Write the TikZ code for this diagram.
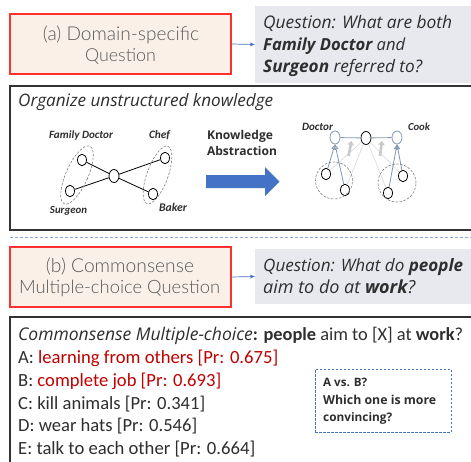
\documentclass[tikz,border=0pt]{standalone}
\usepackage{graphicx}
\usepackage{fontspec}
\setmainfont{Carlito}
\newfontfamily\thinfont{Lato Light}
\newfontfamily\segoe{Open Sans}
\usetikzlibrary{arrows.meta,shapes.geometric}
\newcommand{\fitw}[2]{\resizebox{#1}{!}{#2}}
\definecolor{redbox}{HTML}{FF3030}
\definecolor{beige}{HTML}{FAF0E8}
\definecolor{qgray}{HTML}{E7E9EE}
\definecolor{abblue}{HTML}{4472C4}
\definecolor{dashblue}{HTML}{8FAADC}
\definecolor{darkred}{HTML}{C00000}
\definecolor{txtgray}{HTML}{2E2E2E}
\definecolor{catgray}{HTML}{595959}
\definecolor{bluegray}{HTML}{8497B0}
\definecolor{faint}{HTML}{DADADA}
\definecolor{faintarrow}{HTML}{C9C9C9}
\begin{document}
\begin{tikzpicture}[x=1pt,y=-1pt,
  catbox/.style={draw=redbox, line width=1.1pt, fill=beige, minimum width=221pt, inner sep=0pt},
  qbox/.style={fill=qgray, minimum width=220pt, inner sep=0pt},
  frame/.style={draw=black!80, line width=1.1pt, inner sep=0pt},
  cattxt/.style={font=\thinfont\fontsize{18.8}{21}\selectfont, text=catgray, inner sep=0pt, anchor=base},
  qtxt/.style={font=\segoe\fontsize{16}{22}\selectfont\itshape, text=txtgray, inner sep=0pt, anchor=base west},
  btxt/.style={font=\fontsize{16.8}{22}\selectfont, text=txtgray, inner sep=0pt, anchor=base west},
  sbold/.style={font=\segoe\fontsize{12}{15}\selectfont\bfseries, text=txtgray, inner sep=0pt},
  link/.style={draw=abblue, line width=0.7pt, -{Stealth[length=5pt,width=4pt]}},
  gnode/.style={draw=black, line width=0.8pt, ellipse, minimum width=9pt, minimum height=11.5pt, inner sep=0pt},
  anode/.style={draw=bluegray, line width=0.8pt, ellipse, minimum width=10pt, minimum height=13pt, inner sep=0pt},
  glabel/.style={font=\fontsize{10.5}{12}\selectfont\bfseries\itshape, text=txtgray, inner sep=0pt, anchor=base},
  group/.style={draw=gray, dashed, dash pattern=on 2.5pt off 1.5pt, line width=0.6pt, ellipse, inner sep=0pt},
  gedge/.style={draw=black, line width=0.8pt},
  aedge/.style={draw=bluegray, line width=0.8pt},
  isa/.style={draw=bluegray, line width=0.8pt, -{Triangle[open,length=5pt,width=4.5pt]}},
  fedge/.style={draw=faint, line width=0.6pt},
  farrow/.style={draw=faintarrow, line width=2.6pt, -{Triangle[length=4pt,width=6.5pt]}},
]
\useasboundingbox (0,0) rectangle (471,461);
\fill[white] (0,0) rectangle (471,461);

% ---------- (a) ----------
\node[catbox, minimum height=60pt] (boxa) at (120.5,44) {};
\node[cattxt] (boxa1) at (121,40.7) {\fitw{156pt}{(a) Domain-specific}};
\node[cattxt] (boxa2) at (120.5,61.7) {\fitw{71pt}{Question}};
\node[qbox, minimum height=77pt] (qa) at (365,44.5) {};
\node[qtxt] (qa1) at (263,28.3) {\fitw{189pt}{Question: What are both}};
\node[qtxt] (qa2) at (263,50.3) {\fitw{142pt}{\textbf{Family Doctor} and}};
\node[qtxt] (qa3) at (263,72.6) {\fitw{159pt}{\textbf{Surgeon} referred to?}};
\draw[link] (boxa.east) -- (qa.west);

% ---------- knowledge frame ----------
\node[frame, minimum width=466pt, minimum height=144pt] (kbox) at (243,158) {};
\node[qtxt] (org) at (18,106.7) {\fitw{255pt}{Organize unstructured knowledge}};

% left graph
\node[gnode] (fd) at (82,160) {};
\node[gnode] (sg) at (70,191) {};
\node[gnode, minimum width=10pt, minimum height=13pt] (ct) at (114,176) {};
\node[gnode] (cf) at (165,158) {};
\node[gnode] (bk) at (153,194) {};
\draw[gedge] (fd) -- (ct);
\draw[gedge] (sg) -- (ct);
\draw[gedge] (cf) -- (ct);
\draw[gedge] (bk) -- (ct);
\node[group, minimum width=22pt, minimum height=63pt, rotate=-24] (g1) at (77,175) {};
\node[group, minimum width=21pt, minimum height=61pt, rotate=-20] (g2) at (157.5,175) {};
\node[glabel] (lfd) at (81,138.5) {\fitw{64pt}{Family Doctor}};
\node[glabel] (lcf) at (159.5,138.5) {\fitw{21pt}{Chef}};
\node[glabel] (lsg) at (68.5,213.5) {\fitw{37pt}{Surgeon}};
\node[glabel] (lbk) at (173,211.5) {\fitw{28pt}{Baker}};

% knowledge abstraction arrow
\node[sbold, anchor=base] (ka1) at (240,139.5) {\fitw{66pt}{Knowledge}};
\node[sbold, anchor=base] (ka2) at (242,155) {\fitw{70pt}{Abstraction}};
\fill[abblue] (206,175) -- (265,175) -- (265,167) -- (279.5,181.5) -- (265,196) -- (265,188) -- (206,188) -- cycle;

% right graph
\node[anode] (dr) at (335,137.5) {};
\node[gnode, minimum width=10pt, minimum height=13pt] (rc) at (366,138) {};
\node[anode] (ck) at (397,137.5) {};
\node[gnode] (l1) at (326,174) {};
\node[gnode] (l2) at (345,190) {};
\node[gnode] (r1) at (403,176) {};
\node[gnode] (r2) at (388,193) {};
\draw[fedge] (rc) -- (l1);
\draw[fedge] (rc) -- (l2);
\draw[fedge] (rc) -- (r1);
\draw[fedge] (rc) -- (r2);
\draw[aedge] (dr) -- (rc);
\draw[aedge] (rc) -- (ck);
\draw[isa] (l1) -- (dr.south);
\draw[isa] (l2) -- (dr.south);
\draw[isa] (r1) -- (ck.south);
\draw[isa] (r2) -- (ck.south);
\coordinate (fa1s) at (348.5,156);
\coordinate (fa1e) at (351.5,141);
\coordinate (fa2s) at (380,156);
\coordinate (fa2e) at (382,141);
\draw[farrow] (fa1s) -- (fa1e);
\draw[farrow] (fa2s) -- (fa2e);
\node[group, circle, minimum size=37pt] (gl) at (334,180.5) {};
\node[group, circle, minimum size=38pt] (gr) at (397,183) {};
\node[glabel] (ldr) at (317.5,130) {\fitw{31pt}{Doctor}};
\node[glabel] (lck) at (419,130.5) {\fitw{22pt}{Cook}};

% separator
\coordinate (sepl) at (10,237);
\coordinate (sepr) at (471,237);
\draw[dashblue, line width=0.9pt, dash pattern=on 3pt off 2pt] (sepl) -- (sepr);

% ---------- (b) ----------
\node[catbox, minimum height=60pt] (boxb) at (120.5,277) {};
\node[cattxt] (boxb1) at (120,272.7) {\fitw{148pt}{(b) Commonsense}};
\node[cattxt] (boxb2) at (119.5,293.3) {\fitw{201pt}{Multiple-choice Question}};
\node[qbox, minimum height=55pt] (qb) at (365,276.5) {};
\node[qtxt] (qb1) at (263,271.7) {\fitw{200pt}{Question: What do \textbf{people}}};
\node[qtxt] (qb2) at (263,293.3) {\fitw{152pt}{aim to do at \textbf{work}?}};
\draw[link] (boxb.east) -- (qb.west);

% ---------- commonsense frame ----------
\node[frame, minimum width=466pt, minimum height=160pt] (cbox) at (243,397) {};
\node[btxt] (hdr) at (18,340.7) {\fitw{445pt}{{\segoe\itshape\fontsize{16}{22}\selectfont Commonsense Multiple-choice}\textbf{:} \textbf{people} aim to [X] at \textbf{work}?}};
\node[btxt] (oa) at (18,363.5) {\fitw{260pt}{A: \textcolor{darkred}{learning from others [Pr: 0.675]}}};
\node[btxt] (ob) at (18,386.3) {\fitw{203pt}{B: \textcolor{darkred}{complete job [Pr: 0.693]}}};
\node[btxt] (oc) at (18,409) {\fitw{187pt}{C: kill animals [Pr: 0.341]}};
\node[btxt] (od) at (18,431.8) {\fitw{179pt}{D: wear hats [Pr: 0.546]}};
\node[btxt] (oe) at (18,454.6) {\fitw{237pt}{E: talk to each other [Pr: 0.664]}};
\node[draw=abblue, dashed, dash pattern=on 2.5pt off 1.5pt, line width=0.7pt, minimum width=136pt, minimum height=63pt, inner sep=0pt] (vs) at (383,400.5) {};
\node[sbold, anchor=base west] (vs1) at (323,386) {\fitw{44pt}{A vs. B?}};
\node[sbold, anchor=base west] (vs2) at (323,404) {\fitw{113pt}{Which one is more}};
\node[sbold, anchor=base west] (vs3) at (323,421.5) {\fitw{69pt}{convincing?}};
\end{tikzpicture}
\end{document}
